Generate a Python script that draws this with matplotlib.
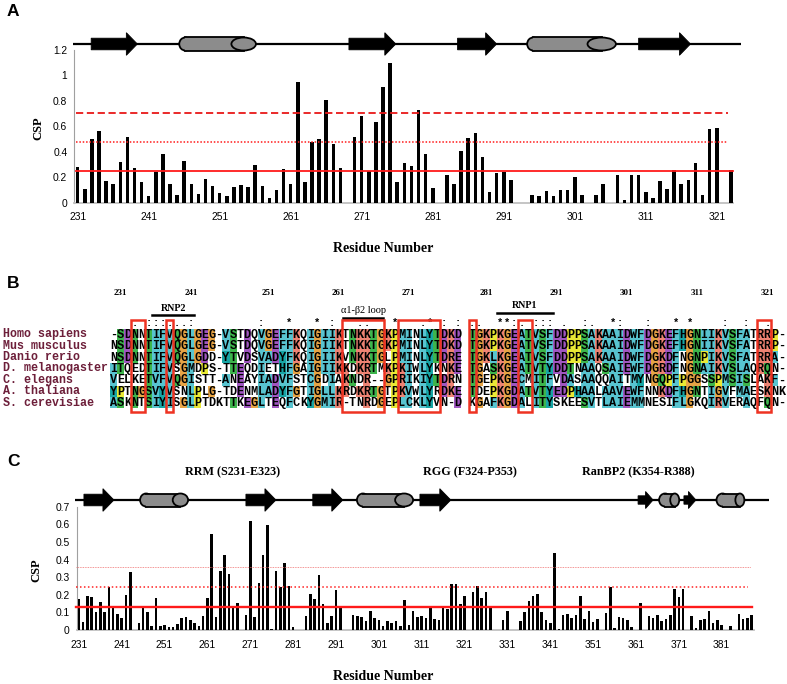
import matplotlib
matplotlib.use('Agg')
import matplotlib.pyplot as plt
from matplotlib.patches import Rectangle, Polygon, Ellipse
import numpy as np

W, H = 787, 684

# ---------------- panel A : CSP of the RRM ----------------
resA = np.arange(231, 324)
cspA = [0.28, 0.105, 0.50, 0.56, 0.17, 0.15, 0.32, 0.52, 0.275, 0.165,
        0.05, 0.24, 0.385, 0.15, 0.06, 0.33, 0.15, 0.07, 0.19, 0.13,
        0.08, 0.05, 0.12, 0.14, 0.125, 0.30, 0.13, 0.04, 0.10, 0.265,
        0.15, 0.945, 0.16, 0.48, 0.50, 0.81, 0.46, 0.27, np.nan, 0.52,
        0.68, 0.25, 0.635, 0.91, 1.10, 0.16, 0.315, 0.29, 0.73, 0.38,
        0.115, np.nan, 0.22, 0.145, 0.41, 0.51, 0.55, 0.36, 0.085, 0.23,
        0.245, 0.18, np.nan, np.nan, 0.06, 0.055, 0.095, 0.055, 0.10, 0.10,
        0.20, 0.06, np.nan, 0.06, 0.15, np.nan, 0.22, 0.02, 0.215, 0.215,
        0.085, 0.04, 0.17, 0.11, 0.255, 0.145, 0.18, 0.315, 0.06, 0.58,
        0.585, np.nan, 0.255]
thrA = [0.246, 0.474, 0.705]
ticksA = [231, 241, 251, 261, 271, 281, 291, 301, 311, 321]
yticksA = [0, 0.2, 0.4, 0.6, 0.8, 1.0, 1.2]
ssA = [('E', 232.9, 239.4), ('H', 245.3, 256.1), ('E', 269.2, 275.8),
       ('E', 284.5, 290.0), ('H', 294.3, 306.8), ('E', 310.0, 317.3)]

# ---------------- panel C : CSP of RRM-RGG-RanBP2 ----------------
resC = np.arange(231, 389)
cspC = [0.176, 0.047, 0.195, 0.187, 0.10, 0.16, 0.10, 0.242, 0.132, 0.09,
        0.07, 0.198, 0.327, np.nan, 0.038, 0.125, 0.10, 0.023, 0.18, 0.023,
        0.028, 0.015, 0.015, 0.032, 0.068, 0.074, 0.059, 0.042, 0.02, 0.077,
        0.183, 0.546, 0.074, 0.333, 0.425, 0.318, 0.123, 0.155, np.nan, 0.087,
        0.62, 0.074, 0.265, 0.427, 0.597, 0.006, 0.333, 0.242, 0.378, 0.248,
        0.015, np.nan, np.nan, 0.077, 0.203, 0.176, 0.313, 0.145, 0.038, 0.077,
        0.227, 0.127, np.nan, np.nan, 0.086, 0.078, 0.075, 0.05, 0.107, 0.067,
        0.055, 0.024, 0.049, 0.038, 0.053, 0.021, 0.17, 0.026, 0.11, 0.072,
        0.078, 0.068, 0.136, 0.06, 0.057, 0.125, 0.117, 0.263, 0.259, 0.147,
        0.193, np.nan, 0.214, 0.25, 0.183, 0.214, 0.125, np.nan, np.nan, 0.057,
        0.108, np.nan, np.nan, 0.051, 0.102, 0.163, 0.193, 0.202, 0.105, 0.054,
        0.038, 0.435, 0.004, 0.085, 0.093, 0.07, 0.085, 0.195, 0.062, 0.11,
        0.043, 0.064, np.nan, 0.098, 0.242, 0.013, 0.076, 0.068, 0.057, 0.019,
        np.nan, 0.153, np.nan, 0.079, 0.066, 0.085, 0.051, 0.064, 0.085, 0.234,
        0.187, 0.23, np.nan, 0.078, 0.011, 0.057, 0.06, 0.108, 0.038, 0.055,
        0.028, np.nan, 0.023, np.nan, 0.089, 0.06, 0.068, 0.083]
thrC = [0.128, 0.242, 0.355]
ticksC = list(range(231, 389, 10))
yticksC = [0, 0.1, 0.2, 0.3, 0.4, 0.5, 0.6, 0.7]
ssC = [('E', 232.2, 239.2), ('H', 245.3, 256.5), ('E', 270.0, 277.0),
       ('E', 285.6, 292.6), ('H', 295.9, 309.0), ('E', 310.6, 317.8),
       ('e', 361.5, 365.0), ('H', 366.4, 371.1), ('e', 372.2, 375.0),
       ('H', 379.8, 386.3)]
domains = ['RRM (S231-E323)', 'RGG (F324-P353)', 'RanBP2 (K354-R388)']

# ---------------- panel B : alignment ----------------
species = ['Homo sapiens', 'Mus musculus', 'Danio rerio', 'D. melanogaster',
           'C. elegans', 'A. thaliana', 'S. cerevisiae']
seqs = [
    '-SDNNTIFVQGLGEG-VSTDQVGEFFKQIGIIK' + 'TNKKTGKPMINLYTDKD' + ' ' + 'TGKPKGEATVSFDDPPSAKAAIDWFDGKEFHGNIIKVSFATRRP-',
    'NSDNNTIFVQGLGEG-VSTDQVGEFFKQIGIIK' + 'TNKKTGKPMINLYTDKD' + ' ' + 'TGKPKGEATVSFDDPPSAKAAIDWFDGKEFHGNIIKVSFATRRP-',
    'NSDNNTIFVQGLGDD-YTVDSVADYFKQIGIIK' + 'VNKKTGLPMINLYTDRE' + ' ' + 'TGKLKGEATVSFDDPPSAKAAIDWFDGKDFNGNPIKVSFATRRA-',
    'ITQEDTIFVSGMDPS-TTEQDIETHFGAIGIIK' + 'KDKRTMKPKIWLYKNKE' + ' ' + 'TGASKGEATVTYDDTNAAQSAIEWFDGRDFNGNAIKVSLAQRQN-',
    'VELKETVFVQGISTT-ANEAYIADVFSTCGDIA' + 'KNDR--GPRIKIYTDRN' + ' ' + 'TGEPKGECMITFVDASAAQQAITMYNGQPFPGGSSPMSISLAKF-',
    'YPTNGSVYVSNLPLG-TDENMLADYFGTIGLLK' + 'RDKRTGTPKVWLYRDKE' + ' ' + 'TDEPKGDATVTYEDPHAALAAVEWFNNKDFHGNTIGVFMAESKNK',
    'ASKNTSIYISGLPTDKTTKEGLTEQFCKYGMIR' + '-TNRDGEPLCKLYVN-D' + ' ' + 'KGAFKGDALITYSKEESVTLAIEMMNESIFLGKQIRVERAQFQN-',
]
conservation = {3: '.', 5: ':', 6: ':', 7: ':', 8: ':', 9: '.', 10: '.', 11: ':',
                21: ':', 25: '*', 29: '*', 31: ':', 35: '.', 36: ':', 40: '*',
                44: '.', 45: '*', 47: ':', 49: ':', 51: ':', 52: '.', 55: '*',
                56: '*', 57: ':', 58: '.', 60: ':', 61: ':', 62: ':', 64: '.',
                67: ':', 68: '.', 71: '*', 72: ':', 76: ':', 80: '*', 82: '*',
                87: ':', 90: ':', 93: ':'}
red_boxes = [(3, 5), (8, 9), (33, 39), (41, 47), (51, 52), (58, 60), (92, 94)]
first_res = 231

BLUE, RED, MAG, GREEN = '#58c4d0', '#ee8373', '#a056c0', '#3db54c'
ORANGE, YELLOW, CYAN, PINK = '#e7a445', '#e9e935', '#17a5a5', '#f08080'
HYD = 'WLVIMAFCHP'


def clustal_colour(col, ch):
    n = float(len(col))

    def pct(group):
        return 100.0 * sum(c in group for c in col) / n

    if ch in 'AILMFWV':
        return BLUE if pct(HYD) > 40 else None
    if ch == 'C':
        if pct('C') > 85:
            return PINK
        return BLUE if pct(HYD) > 40 else None
    if ch in 'KR':
        return RED if pct('KR') > 40 or any(pct(g) > 85 for g in 'KRQ') else None
    if ch == 'E':
        return MAG if pct('KR') > 60 or pct('QE') > 50 or pct('ED') > 40 else None
    if ch == 'D':
        return MAG if pct('ED') > 40 or pct('N') > 85 else None
    if ch == 'N':
        return GREEN if pct('N') > 50 or pct('D') > 85 else None
    if ch == 'Q':
        return GREEN if pct('KR') > 60 or pct('QE') > 50 else None
    if ch in 'ST':
        return GREEN if pct(HYD) > 60 or pct('TS') > 50 else None
    if ch == 'G':
        return ORANGE
    if ch == 'P':
        return YELLOW
    if ch in 'HY':
        if pct(HYD) > 40 or any(pct(g) > 85 for g in 'WYACPQFHILMV'):
            return CYAN
    return None


def box(x0, y0, x1, y1):
    return [x0 / W, 1 - y1 / H, (x1 - x0) / W, (y1 - y0) / H]


def px(x, y):
    return x / W, 1 - y / H


def draw_topology(ax, ss, x_from, x_to, rpp):
    # rpp = residues per pixel, y axis of ax is in pixels
    ax.plot([x_from, x_to], [0, 0], color='black', lw=1.6, zorder=1,
            clip_on=False, solid_capstyle='butt')
    for kind, a, b in ss:
        if kind in 'Ee':
            if kind == 'E':
                hl, bh, hh = 11 * rpp, 5.8, 11.3
            else:
                hl, bh, hh = 7.5 * rpp, 4.2, 8.5
            verts = [(a, -bh), (b - hl, -bh), (b - hl, -hh), (b, 0),
                     (b - hl, hh), (b - hl, bh), (a, bh)]
            ax.add_patch(Polygon(verts, closed=True, fc='black', ec='black',
                                 lw=0.6, zorder=3, clip_on=False))
        else:
            h = 13.0
            r = 6 * rpp
            cap = max(0.32 * (b - a), 9 * rpp)
            grey = '#8c8c8c'
            ax.add_patch(Ellipse((a + r, 0), 2 * r, h, fc=grey, ec='black',
                                 lw=1.3, zorder=3, clip_on=False))
            ax.add_patch(Rectangle((a + r, -h / 2), (b - cap / 2) - (a + r), h,
                                   fc=grey, ec='none', zorder=4, clip_on=False))
            for yy in (-h / 2, h / 2):
                ax.plot([a + r, b - cap / 2], [yy, yy], color='black', lw=1.3,
                        zorder=5, clip_on=False)
            ax.add_patch(Ellipse((b - cap / 2, 0), cap, h, fc=grey, ec='black',
                                 lw=1.3, zorder=6, clip_on=False))


def fmt(v):
    return ('%g' % v)


def draw_bars(ax, res, csp, xlim, ylim, yticks, xticks, width, thr, styles):
    res = np.asarray(res)
    csp = np.asarray(csp, dtype=float)
    ok = ~np.isnan(csp)
    ax.bar(res[ok], csp[ok], width=width, color='black', zorder=3)
    ax.set_xlim(*xlim)
    ax.set_ylim(*ylim)
    ax.set_xticks(xticks)
    ax.set_xticklabels([str(t) for t in xticks], fontsize=7.4,
                       fontfamily='Liberation Sans')
    ax.set_yticks(yticks)
    ax.set_yticklabels([fmt(t) for t in yticks], fontsize=7.4,
                       fontfamily='Liberation Sans')
    ax.tick_params(axis='x', length=0, pad=7)
    ax.tick_params(axis='y', length=0, pad=5)
    for s in ('top', 'right'):
        ax.spines[s].set_visible(False)
    ax.spines['left'].set_color('#a0a0a0')
    ax.spines['bottom'].set_color('#c0c0c0')
    ax.spines['bottom'].set_linewidth(1.3)
    ax.patch.set_alpha(0)
    for val, (x0, x1, ls, lw, col) in zip(thr, styles):
        ax.plot([x0, x1], [val, val], color=col, ls=ls, lw=lw, zorder=4,
                clip_on=False)


fig = plt.figure(figsize=(W / 100, H / 100), dpi=100)

serif = 'Liberation Serif'

# ---- panel A
axA = fig.add_axes(box(74.3, 50, 733, 202.7))
xlimA = (230.52, 323.29)
draw_bars(axA, resA, cspA, xlimA, (0, 1.2), yticksA, ticksA, 0.5, thrA,
          [(230.76, 323.3, '-', 1.3, '#ff1a1a'),
           (230.76, 322.6, (0, (1, 1.2)), 1.1, '#ff1a1a'),
           (230.76, 322.6, (0, (4, 2)), 1.3, '#e81818')])
topA = fig.add_axes(box(74.3, 30, 733, 58))
topA.set_xlim(*xlimA)
topA.set_ylim(-14, 14)
topA.axis('off')
draw_topology(topA, ssA, 230.34, 324.4, (xlimA[1] - xlimA[0]) / (733 - 74.3))

fig.text(*px(38, 128), 'CSP', rotation=90, ha='center', va='center',
         fontsize=9, fontweight='bold', fontfamily=serif)
fig.text(*px(383, 248), 'Residue Number', ha='center', va='center',
         fontsize=10, fontweight='bold', fontfamily=serif)

# ---- panel C
axC = fig.add_axes(box(76.7, 506.7, 754, 630))
xlimC = (230.51, 388.55)
draw_bars(axC, resC, cspC, xlimC, (0, 0.7), yticksC, ticksC, 0.6, thrC,
          [(230.4, 388.15, '-', 1.7, '#ff1a1a'),
           (230.4, 387.2, (0, (1, 1.6)), 1.1, '#ff2020'),
           (230.4, 387.9, (0, (1, 1)), 0.6, '#f07070')])
topC = fig.add_axes(box(76.7, 486, 754, 514))
topC.set_xlim(*xlimC)
topC.set_ylim(-14, 14)
topC.axis('off')
draw_topology(topC, ssC, 230.1, 392.0, (xlimC[1] - xlimC[0]) / (754 - 76.7))

for name, xc in zip(domains, [233, 470, 638]):
    fig.text(*px(xc, 472), name, ha='center', va='center', fontsize=8.7,
             fontweight='bold', fontfamily=serif)
fig.text(*px(36, 570), 'CSP', rotation=90, ha='center', va='center',
         fontsize=9, fontweight='bold', fontfamily=serif)
fig.text(*px(383, 677), 'Residue Number', ha='center', va='center',
         fontsize=10, fontweight='bold', fontfamily=serif)

# ---- panel B
ncol = len(seqs[0])
axB = fig.add_axes(box(110, 328.5, 110 + ncol * 7.03, 328.5 + 7 * 11.4))
axB.set_xlim(0, ncol)
axB.set_ylim(len(seqs), 0)
axB.axis('off')

for r, (name, seq) in enumerate(zip(species, seqs)):
    axB.text(-15.2, r + 0.5, name, ha='left', va='center', fontsize=8.4,
             fontweight='bold', fontfamily='Liberation Mono', color='#6d1f3a',
             clip_on=False)
    for c, ch in enumerate(seq):
        column = [s[c] for s in seqs]
        colr = clustal_colour(column, ch)
        if colr is not None:
            axB.add_patch(Rectangle((c, r), 1, 1, fc=colr, ec='none', zorder=1))
        if ch != ' ':
            axB.text(c + 0.5, r + 0.55, ch, ha='center', va='center',
                     fontsize=8.6, fontweight='bold',
                     fontfamily='Liberation Mono', zorder=3)

# residue numbering of the human sequence
num = first_res - 1
for c, ch in enumerate(seqs[0]):
    if ch in '- ':
        continue
    num += 1
    if (num - first_res) % 10 == 0:
        axB.text(c + 0.5, -3.1, str(num), ha='center', va='center',
                 fontsize=6.4, fontweight='bold', fontfamily=serif,
                 clip_on=False)

for c, sym in conservation.items():
    axB.text(c + 0.5, -0.5, sym, ha='center', va='center', fontsize=7.5,
             fontweight='bold', fontfamily='Liberation Mono', clip_on=False)

for c0, c1 in red_boxes:
    axB.add_patch(Rectangle((c0, -0.72), c1 - c0, 8.04, fill=False,
                            ec='#ee3322', lw=1.8, zorder=5, clip_on=False))

# motif annotations
axB.plot([6, 12], [-1.18, -1.18], color='black', lw=1.8, clip_on=False)
axB.text(9, -1.72, 'RNP2', ha='center', va='center', fontsize=7.2,
         fontweight='bold', fontfamily=serif, clip_on=False)
axB.plot([33.2, 38.8], [-0.92, -0.92], color='black', lw=1.8, clip_on=False)
axB.text(36, -1.55, '\u03b11-\u03b22 loop', ha='center', va='center',
         fontsize=7.4, fontfamily=serif, clip_on=False)
axB.plot([55, 63], [-1.36, -1.36], color='black', lw=1.8, clip_on=False)
axB.text(59, -2.06, 'RNP1', ha='center', va='center', fontsize=7.2,
         fontweight='bold', fontfamily=serif, clip_on=False)

# panel letters
for letter, y in (('A', 12), ('B', 283), ('C', 461)):
    fig.text(*px(13, y), letter, ha='center', va='center', fontsize=12.5,
             fontweight='bold', fontfamily='Liberation Sans')

fig.savefig('out.png', dpi=100)
